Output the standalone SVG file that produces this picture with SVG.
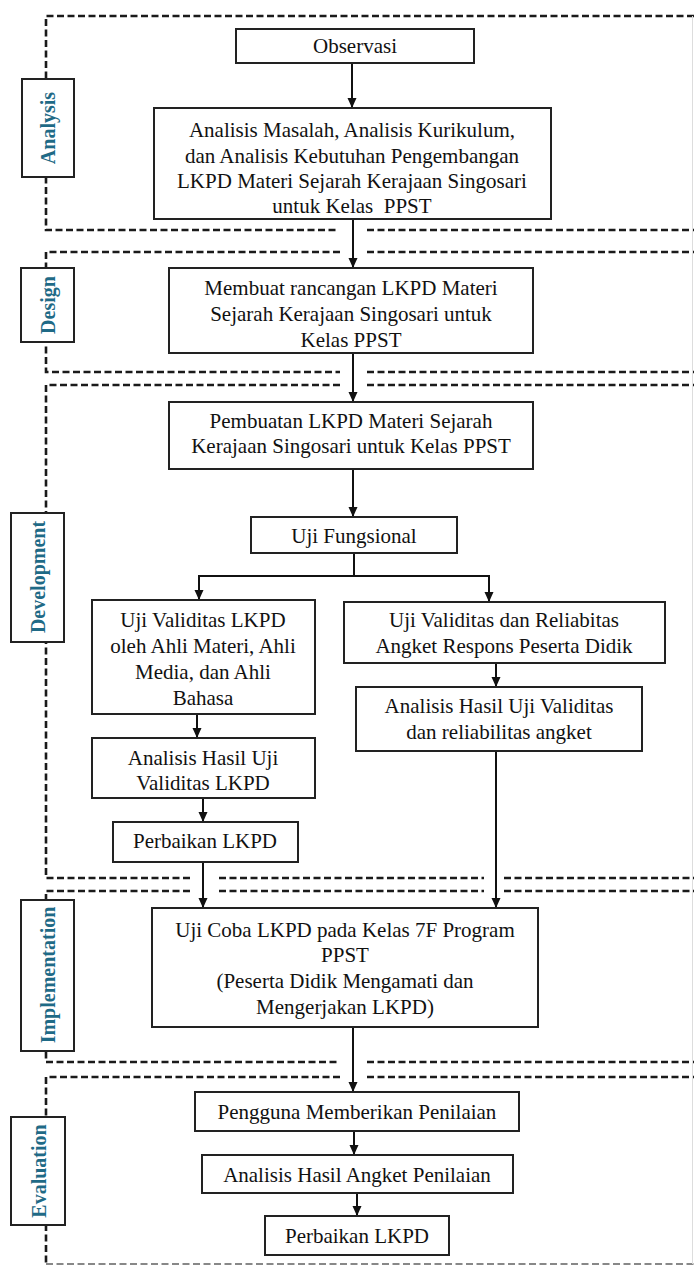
<svg xmlns="http://www.w3.org/2000/svg" width="694" height="1267" viewBox="0 0 694 1267">
<defs>
<marker id="ah" markerWidth="10" markerHeight="11" refX="9" refY="5" orient="auto" markerUnits="userSpaceOnUse">
<path d="M0,0.5 L10,5 L0,9.5 Z" fill="#111"/>
</marker>
<style>
.frame{fill:none;stroke:#1a1a1a;stroke-width:2.6;stroke-dasharray:7 3.5}
.box{fill:#fff;stroke:#222;stroke-width:2}
.lab{fill:#fff;stroke:#222;stroke-width:2}
.t{font-family:"Liberation Serif","Times New Roman",serif;font-size:21px;fill:#111;text-anchor:middle}
.lt{font-family:"Liberation Serif","Times New Roman",serif;font-size:20px;font-weight:bold;fill:#1f6a86;text-anchor:middle;dominant-baseline:central}
.c{fill:none;stroke:#111;stroke-width:2}
</style>
</defs>
<rect width="694" height="1267" fill="#fff"/>

<g id="frames">
<path class="frame" d="M694,16 H46 V230 H338"/>
<path class="frame" d="M367,230 H694"/>
<path class="frame" d="M340,252 H46 V372 H340"/>
<path class="frame" d="M367,252 H694 M367,372 H694"/>
<path class="frame" d="M340,385 H46 V878 H190"/>
<path class="frame" d="M367,385 H694 M219,878 H484 M504,878 H694"/>
<path class="frame" d="M190,891 H46 V1062 H340"/>
<path class="frame" d="M219,891 H484 M504,891 H694 M367,1062 H694"/>
<path class="frame" d="M340,1077 H46 V1264"/>
<path class="frame" d="M367,1077 H694"/>
<path d="M46,1264 H694" fill="none" stroke="#888" stroke-width="2" stroke-dasharray="7 3.5"/>
<path d="M692.5,16 V1264" fill="none" stroke="#ddd" stroke-width="1"/>
</g>

<g id="label-analysis"><rect class="lab" x="22" y="79" width="52" height="98"/><text class="lt" transform="translate(48,128) rotate(-90)">Analysis</text></g>
<g id="label-design"><rect class="lab" x="21" y="268" width="53" height="74"/><text class="lt" transform="translate(48,305) rotate(-90)">Design</text></g>
<g id="label-development"><rect class="lab" x="11" y="513" width="53" height="129"/><text class="lt" transform="translate(38,577) rotate(-90)">Development</text></g>
<g id="label-implementation"><rect class="lab" x="21" y="900" width="53" height="151"/><text class="lt" transform="translate(48,975) rotate(-90)">Implementation</text></g>
<g id="label-evaluation"><rect class="lab" x="11" y="1117" width="54" height="108"/><text class="lt" transform="translate(39,1171) rotate(-90)">Evaluation</text></g>

<g id="connectors">
<path class="c" d="M352,63 V107" marker-end="url(#ah)"/>
<path class="c" d="M353,219 V267" marker-end="url(#ah)"/>
<path class="c" d="M353,353 V401" marker-end="url(#ah)"/>
<path class="c" d="M353,469 V516" marker-end="url(#ah)"/>
<path class="c" d="M354,553 V576"/>
<path class="c" d="M199,576 H489"/>
<path class="c" d="M199,575 V599" marker-end="url(#ah)"/>
<path class="c" d="M489,575 V601" marker-end="url(#ah)"/>
<path class="c" d="M197,714 V737" marker-end="url(#ah)"/>
<path class="c" d="M203,798 V821" marker-end="url(#ah)"/>
<path class="c" d="M203,862 V907" marker-end="url(#ah)"/>
<path class="c" d="M496,663 V686" marker-end="url(#ah)"/>
<path class="c" d="M496,751 V907" marker-end="url(#ah)"/>
<path class="c" d="M353,1027 V1091" marker-end="url(#ah)"/>
<path class="c" d="M354,1131 V1154" marker-end="url(#ah)"/>
<path class="c" d="M357,1193 V1215" marker-end="url(#ah)"/>
</g>

<g id="n-observasi"><rect class="box" x="236" y="29" width="238" height="34"/><text class="t" x="355" y="53">Observasi</text></g>
<g id="n-analisis"><rect class="box" x="154" y="108" width="397" height="111"/>
<text class="t" x="352" y="137">Analisis Masalah, Analisis Kurikulum,</text>
<text class="t" x="352" y="162.5">dan Analisis Kebutuhan Pengembangan</text>
<text class="t" x="352" y="188">LKPD Materi Sejarah Kerajaan Singosari</text>
<text class="t" x="352" y="213" xml:space="preserve">untuk Kelas  PPST</text></g>
<g id="n-design"><rect class="box" x="169" y="268" width="364" height="85"/>
<text class="t" x="351" y="295">Membuat rancangan LKPD Materi</text>
<text class="t" x="351" y="321">Sejarah Kerajaan Singosari untuk</text>
<text class="t" x="351" y="347">Kelas PPST</text></g>
<g id="n-pembuatan"><rect class="box" x="169" y="402" width="364" height="67"/>
<text class="t" x="351" y="428">Pembuatan LKPD Materi Sejarah</text>
<text class="t" x="351" y="453">Kerajaan Singosari untuk Kelas PPST</text></g>
<g id="n-ujifungsional"><rect class="box" x="251" y="517" width="206" height="36"/>
<text class="t" x="354" y="543">Uji Fungsional</text></g>
<g id="n-ujivaliditas"><rect class="box" x="92" y="600" width="223" height="114"/>
<text class="t" x="203" y="627">Uji Validitas LKPD</text>
<text class="t" x="203" y="653">oleh Ahli Materi, Ahli</text>
<text class="t" x="203" y="679">Media, dan Ahli</text>
<text class="t" x="203" y="705">Bahasa</text></g>
<g id="n-ujiangket"><rect class="box" x="344" y="602" width="321" height="61"/>
<text class="t" x="504" y="627">Uji Validitas dan Reliabitas</text>
<text class="t" x="504" y="653">Angket Respons Peserta Didik</text></g>
<g id="n-analisisangket"><rect class="box" x="356" y="687" width="286" height="64"/>
<text class="t" x="499" y="713">Analisis Hasil Uji Validitas</text>
<text class="t" x="499" y="739">dan reliabilitas angket</text></g>
<g id="n-analisislkpd"><rect class="box" x="92" y="738" width="223" height="60"/>
<text class="t" x="203" y="765">Analisis Hasil Uji</text>
<text class="t" x="203" y="790">Validitas LKPD</text></g>
<g id="n-perbaikan1"><rect class="box" x="113" y="822" width="185" height="40"/>
<text class="t" x="205" y="848">Perbaikan LKPD</text></g>
<g id="n-ujicoba"><rect class="box" x="152" y="908" width="386" height="119"/>
<text class="t" x="345" y="937">Uji Coba LKPD pada Kelas 7F Program</text>
<text class="t" x="345" y="962">PPST</text>
<text class="t" x="345" y="988">(Peserta Didik Mengamati dan</text>
<text class="t" x="345" y="1014">Mengerjakan LKPD)</text></g>
<g id="n-pengguna"><rect class="box" x="195" y="1092" width="324" height="39"/>
<text class="t" x="357" y="1119">Pengguna Memberikan Penilaian</text></g>
<g id="n-analisishasil"><rect class="box" x="202" y="1155" width="311" height="38"/>
<text class="t" x="357" y="1182">Analisis Hasil Angket Penilaian</text></g>
<g id="n-perbaikan2"><rect class="box" x="265" y="1216" width="184" height="39"/>
<text class="t" x="357" y="1243">Perbaikan LKPD</text></g>
</svg>
